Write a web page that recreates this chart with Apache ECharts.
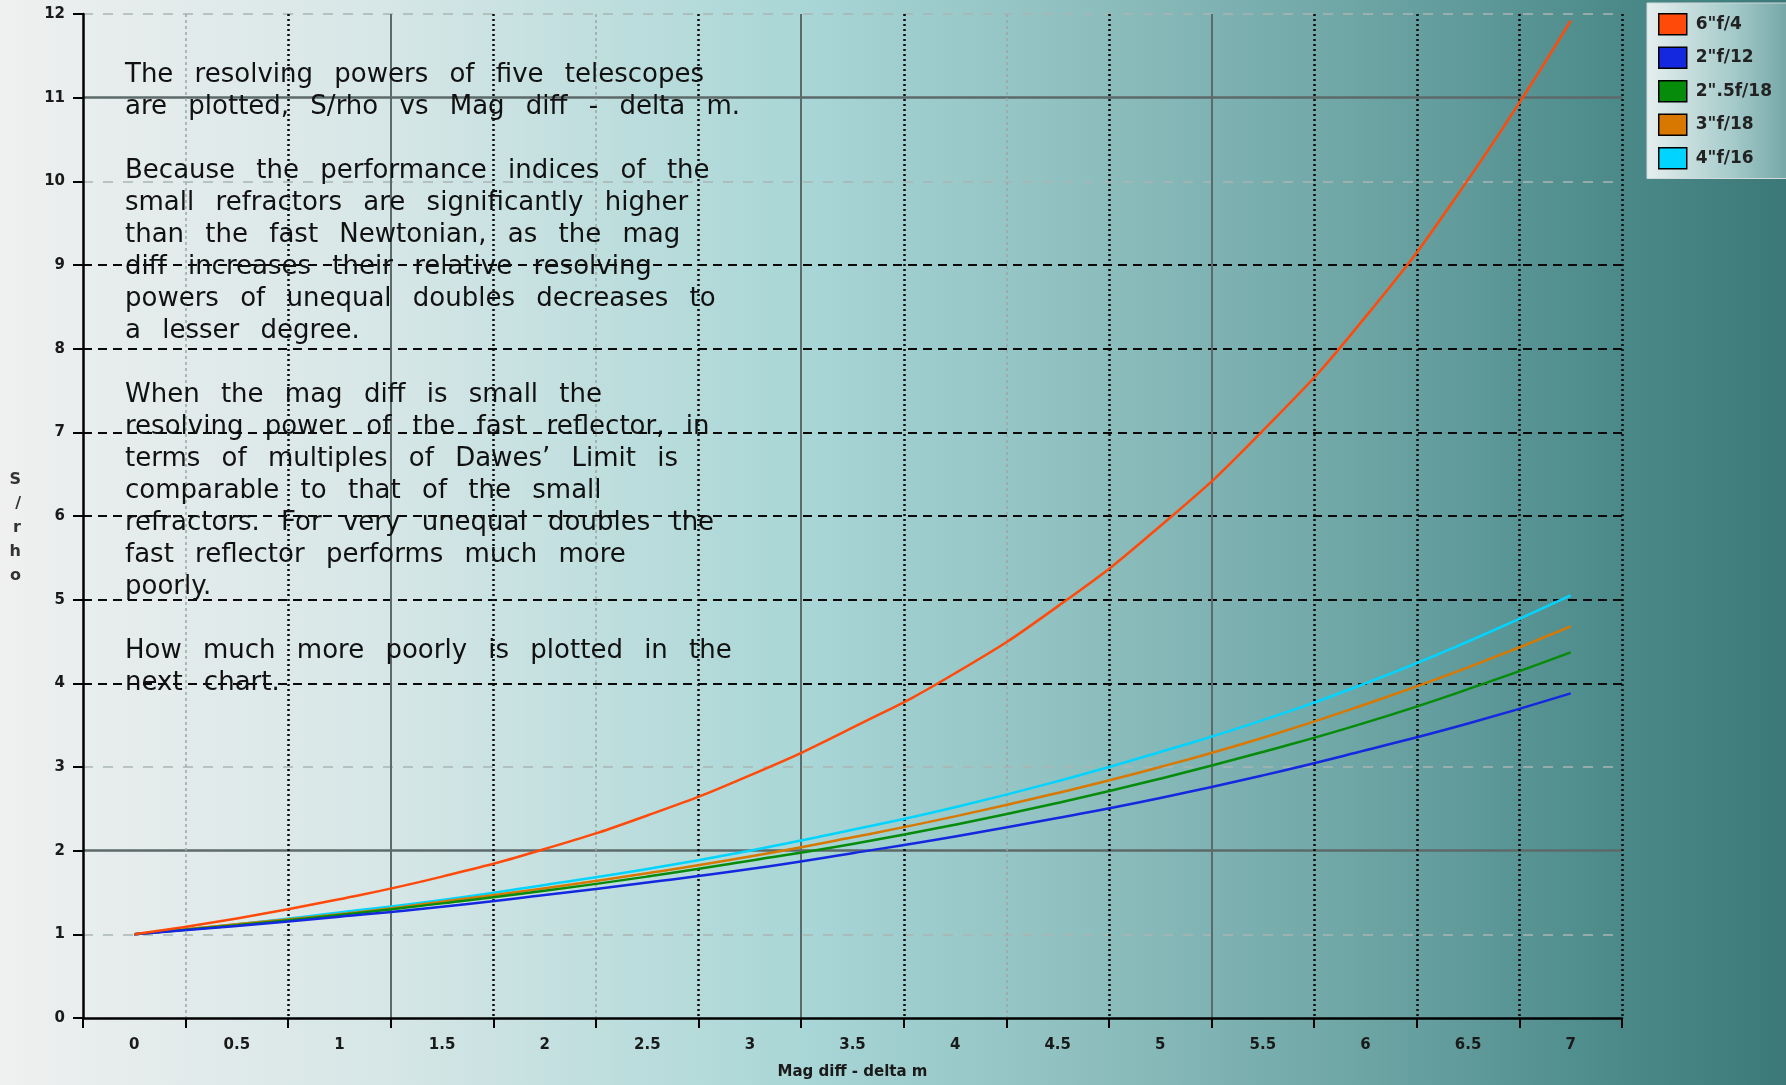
<!DOCTYPE html>
<html>
<head>
<meta charset="utf-8">
<script src="https://cdn.jsdelivr.net/npm/echarts@6/dist/echarts.min.js"></script>
<style>
html,body{margin:0;padding:0;background:#3e7a7a;}
#main{width:1786px;height:1085px;}
</style>
</head>
<body>
<div id="main"></div>
<script>
// ---- data ----
const categories = ['0','0.5','1','1.5','2','2.5','3','3.5','4','4.5','5','5.5','6','6.5','7'];
const seriesNames = ['6"f/4', '2"f/12', '2".5f/18', '3"f/18', '4"f/16'];
const red6f4   = [1.00, 1.19, 1.42, 1.69, 2.02, 2.42, 2.90, 3.47, 4.12, 4.92, 5.88, 7.02, 8.38, 10.02, 11.92];
const blue2f12 = [1.00, 1.10, 1.21, 1.33, 1.47, 1.62, 1.78, 1.97, 2.17, 2.39, 2.63, 2.90, 3.20, 3.52, 3.88];
const green25f = [1.00, 1.11, 1.23, 1.37, 1.52, 1.69, 1.88, 2.08, 2.31, 2.57, 2.86, 3.18, 3.53, 3.93, 4.37];
const orange3f = [1.00, 1.12, 1.24, 1.39, 1.55, 1.73, 1.93, 2.16, 2.41, 2.69, 3.00, 3.35, 3.75, 4.19, 4.68];
const cyan4f16 = [1.00, 1.12, 1.26, 1.41, 1.59, 1.78, 2.00, 2.25, 2.52, 2.83, 3.18, 3.56, 4.00, 4.50, 5.05];
const yTicks = { min: 0, max: 12, interval: 1 };
const xAxisName = 'Mag diff - delta m';
const yAxisName = '\nS\n/\nr\nh\no';
const noteLines = [
  'The resolving powers of five telescopes',
  'are plotted, S/rho vs Mag diff - delta m.',
  '',
  'Because the performance indices of the',
  'small refractors are significantly higher',
  'than the fast Newtonian, as the mag',
  'diff increases their relative resolving',
  'powers of unequal doubles decreases to',
  'a lesser degree.',
  '',
  'When the mag diff is small the',
  'resolving power of the fast reflector, in',
  'terms of multiples of Dawes\u2019 Limit is',
  'comparable to that of the small',
  'refractors. For very unequal doubles the',
  'fast reflector performs much more',
  'poorly.',
  '',
  'How much more poorly is plotted in the',
  'next chart.'
];

// ---- styling ----
const colors = ['#ff4a0a', '#1428e0', '#068c0a', '#d97800', '#00d4ff'];
const seriesData = [red6f4, blue2f12, green25f, orange3f, cyan4f16];
const T = 'rgba(0,0,0,0)';

function pick(n, set, c) { const a = []; for (let i = 0; i < n; i++) a.push(set.indexOf(i) >= 0 ? c : T); return a; }
const xSolid = pick(16, [3, 7, 11], '#5d6a6a');
const xLight = pick(16, [1, 5, 9], '#9aa6a6');
const xDark  = pick(16, [2, 4, 6, 8, 10, 12, 13, 14, 15], '#0a0a0a');
const ySolid = pick(13, [2, 11], '#5d6a6a');
const yLight = pick(13, [1, 3, 10, 12], '#a9b5b5');
const yDark  = pick(13, [4, 5, 6, 7, 8, 9], '#0a0a0a');

const labelFont = { fontFamily: 'DejaVu Sans', fontSize: 15, fontWeight: 'bold', color: '#1a1a1a' };

function xAx(show, color, type, width) {
  return {
    type: 'category', data: categories, boundaryGap: true, position: 'bottom',
    axisLine: { show: show, onZero: false, lineStyle: { color: '#000', width: 2.5 } },
    axisTick: { show: show, interval: 0, length: 10, lineStyle: { color: '#000', width: 2 } },
    axisLabel: Object.assign({ show: show, interval: 0, margin: 20 }, labelFont),
    name: show ? xAxisName : '', nameLocation: 'middle', nameGap: 47,
    nameTextStyle: { fontFamily: 'DejaVu Sans', fontSize: 15, fontWeight: 'bold', color: '#1a1a1a' },
    splitLine: { show: true, interval: 0, showMinLine: true, showMaxLine: true,
      lineStyle: { color: color, type: type, width: width } }
  };
}
function yAx(show, color, type, width) {
  return {
    type: 'value', min: yTicks.min, max: yTicks.max, interval: yTicks.interval, position: 'left',
    axisLine: { show: show, onZero: false, lineStyle: { color: '#000', width: 2.5 } },
    axisTick: { show: show, length: 10, lineStyle: { color: '#000', width: 2 } },
    axisLabel: Object.assign({ show: show, margin: 18 }, labelFont),
    name: show ? yAxisName : '', nameLocation: 'middle', nameGap: 62, nameRotate: 0,
    nameTextStyle: { fontFamily: 'DejaVu Sans', fontSize: 16, fontWeight: 'bold', color: '#333', lineHeight: 24 },
    splitLine: { show: true, showMinLine: true, showMaxLine: true,
      lineStyle: { color: color, type: type, width: width } }
  };
}

const chart = echarts.init(document.getElementById('main'), null, { renderer: 'canvas' });
const option = {
  animation: false,
  backgroundColor: new echarts.graphic.LinearGradient(0, 0, 1, 0, [
    { offset: 0, color: '#f0f0f0' },
    { offset: 0.05, color: '#e8eded' },
    { offset: 0.22, color: '#d6e6e6' },
    { offset: 0.45, color: '#a9d6d6' },
    { offset: 0.62, color: '#8cbdbd' },
    { offset: 0.80, color: '#659e9e' },
    { offset: 0.91, color: '#4b8989' },
    { offset: 1, color: '#3c7878' }
  ]),
  grid: { left: 83, right: 164, top: 14, bottom: 61, containLabel: false },
  legend: {
    orient: 'vertical', left: 1647, top: 3,
    padding: [10, 40, 9, 11], itemGap: 11, itemWidth: 28, itemHeight: 21,
    icon: 'rect',
    backgroundColor: new echarts.graphic.LinearGradient(0, 0, 1, 0, [
      { offset: 0, color: '#e6eeee' }, { offset: 0.5, color: '#a8cccc' }, { offset: 1, color: '#5f9797' }
    ]),
    borderColor: '#d0dada', borderWidth: 1,
    textStyle: { fontFamily: 'DejaVu Sans', fontSize: 17, fontWeight: 'bold', color: '#222', lineHeight: 21, padding: [0, 0, 0, 4] },
    data: seriesNames.map((n, i) => ({ name: n, itemStyle: { color: colors[i], borderColor: '#000', borderWidth: 1.5 } }))
  },
  xAxis: [
    xAx(true, xSolid, 'solid', 2),
    xAx(false, xLight, [3, 3], 1.5),
    xAx(false, xDark, [2, 3], 2.5)
  ],
  yAxis: [
    yAx(true, ySolid, 'solid', 2.5),
    yAx(false, yLight, [10, 10], 1.5),
    yAx(false, yDark, [9, 6], 2)
  ],
  graphic: [{
    type: 'text', left: 125, top: 59, z: 100,
    style: {
      text: noteLines.map(l => l.split(' ').join('\u2002 ')).join('\n'),
      font: '26px "DejaVu Sans"', lineHeight: 32, fill: '#111'
    }
  }],
  series: seriesNames.map((n, i) => ({
    name: n, type: 'line', xAxisIndex: 0, yAxisIndex: 0,
    data: seriesData[i], smooth: true, symbol: 'none',
    lineStyle: { color: colors[i], width: 2.5 }, itemStyle: { color: colors[i] }, z: 10 - i
  }))
};
chart.setOption(option);
</script>
</body>
</html>
